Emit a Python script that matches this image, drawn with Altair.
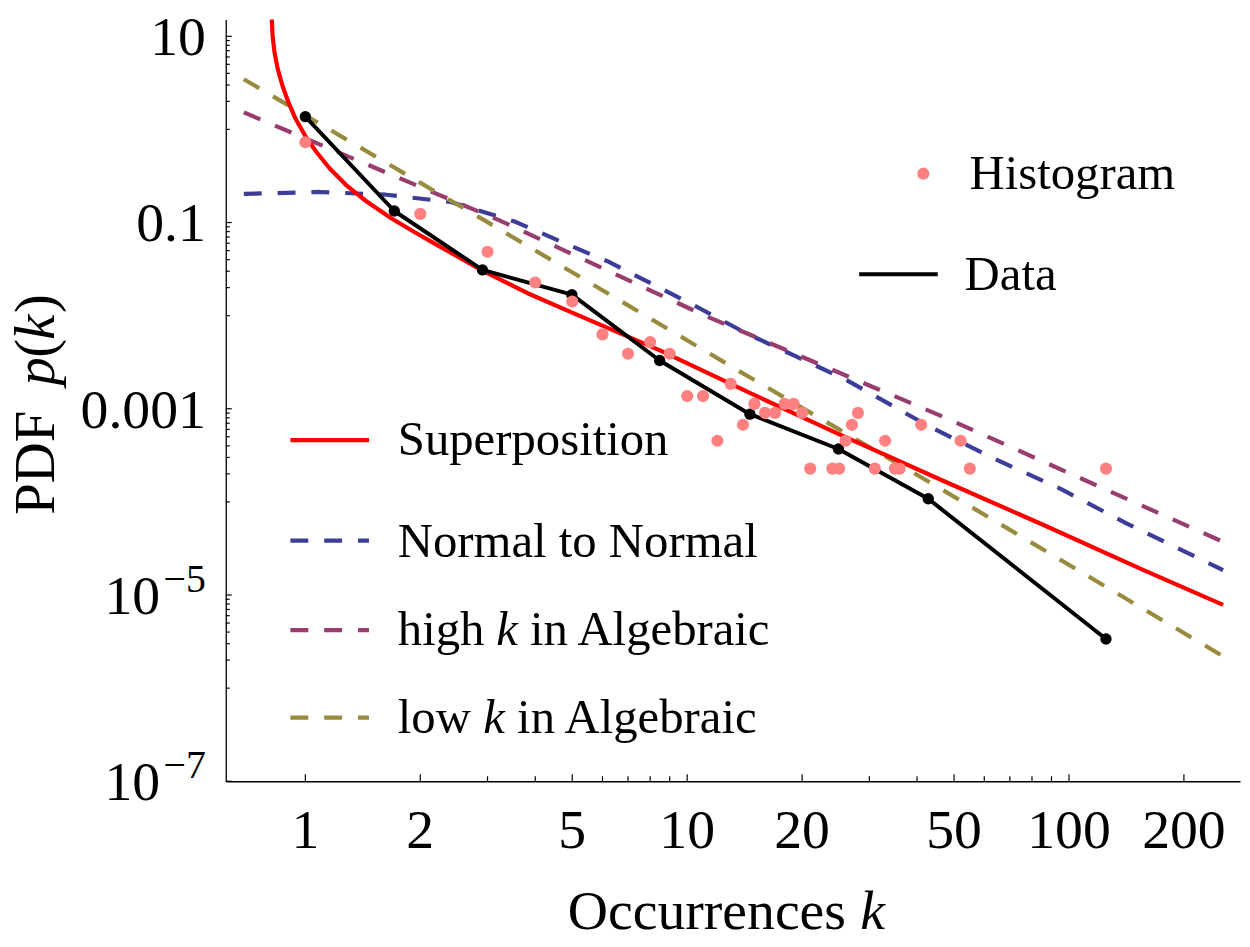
import altair as alt
import pandas as pd

# ---------------- data ----------------
# Histogram (pink dots)
hist_k = [1, 2, 3, 4, 5, 6, 7, 8, 9, 10, 11, 12, 13, 14, 15, 16, 17, 18, 19, 20,
          21, 24, 25, 26, 27, 28, 31, 33, 35, 36, 41, 52, 55, 125]
hist_p = [0.728, 0.124, 0.0486, 0.0227, 0.0142, 0.0063, 0.0039, 0.0052, 0.0039, 0.00137,
          0.00137, 0.000454, 0.00185, 0.000673, 0.00113, 0.000904, 0.000904, 0.00113, 0.00113, 0.000904,
          0.000228, 0.000228, 0.000228, 0.000454, 0.000673, 0.000904, 0.000228, 0.000454, 0.000228, 0.000228,
          0.000673, 0.000454, 0.000228, 0.000228]

# Data (black line with points)
data_k = [1.0, 1.71, 2.91, 4.99, 8.47, 14.6, 24.9, 42.8, 125.0]
data_p = [1.37, 0.133, 0.031, 0.0168, 0.0033, 0.000875, 0.00037, 0.000108, 3.37e-6]

# Superposition (red)
sup_k = [0.8126, 0.8170, 0.8206, 0.8305, 0.8470, 0.8711, 0.9031, 0.9434, 0.9982, 1.070,
         1.160, 1.281, 1.444, 1.678, 1.934, 2.181, 2.908, 3.808, 5.049, 8.456,
         14.59, 24.88, 47.27, 86.1, 156.8, 253.3]
sup_p = [22.8, 15.12, 10.05, 6.66, 4.42, 2.94, 1.948, 1.291, 0.8586, 0.569,
         0.3776, 0.2509, 0.1693, 0.1114, 0.0786, 0.0594, 0.0305, 0.01752, 0.01058, 0.00426,
         0.001479, 5.39e-4, 1.656e-4, 5.61e-5, 1.854e-5, 7.84e-6]

# Normal to Normal (blue dashed)
n2n_k = [0.690, 1.092, 1.628, 2.404, 3.55, 5.14, 6.22, 10.55, 14.24, 19.22,
         25.95, 42.76, 63.8, 95.1, 141.8, 253.3]
n2n_p = [0.203, 0.213, 0.199, 0.166, 0.1018, 0.0527, 0.0380, 0.01257, 0.00650, 0.00367,
         0.00207, 6.56e-4, 2.90e-4, 1.38e-4, 5.85e-5, 1.85e-5]

# high k in Algebraic (purple dashed)
high_k = [0.690, 3.214, 10.99, 47.27, 253.3]
high_p = [1.523, 0.1061, 0.01025, 8.05e-4, 3.72e-5]

# low k in Algebraic (olive dashed)
low_k = [0.690, 2.938, 13.68, 45.39, 253.3]
low_p = [3.456, 0.1061, 0.00254, 1.44e-4, 2.20e-6]

# axis ticks / labels
x_tick_major = [1, 2, 5, 10, 20, 50, 100, 200]
x_tick_minor = [3, 4, 6, 7, 8, 9, 30, 40, 60, 70, 80, 90]
x_labels = ["1", "2", "5", "10", "20", "50", "100", "200"]
y_lab_vals = [10, 0.1, 0.001]
y_lab_text = ["10", "0.1", "0.001"]
y_sci_vals = [1e-5, 1e-7]
y_sci_exp = ["\u22125", "\u22127"]

# ---------------- styling ----------------
FONT = "Liberation Serif"
W, H = 1020, 766
C_RED = "#ff0000"
C_PINK = "#ff8080"
C_BLUE = "#3d3d99"
C_PURPLE = "#993d71"
C_OLIVE = "#998b3d"
DASH = [18, 16]

xs = alt.Scale(type="log", domain=[0.6188, 280.5], nice=False)
ys = alt.Scale(type="log", domain=[1e-7, 15.12], nice=False)
ax = alt.Axis(domain=True, ticks=False, labels=False, grid=False, title=None,
              domainColor="black", domainWidth=1.3)


def X(f):
    return alt.X(f, type="quantitative", scale=xs, axis=ax)


def Y(f):
    return alt.Y(f, type="quantitative", scale=ys, axis=ax)


def series(ks, ps):
    return pd.DataFrame({"k": ks, "p": ps})


def line(ks, ps, color, dash=None, width=4.2):
    kw = dict(color=color, strokeWidth=width, clip=True, strokeJoin="round")
    if dash:
        kw["strokeDash"] = dash
    return alt.Chart(series(ks, ps)).mark_line(**kw).encode(x=X("k"), y=Y("p"))


one = pd.DataFrame({"a": [0]})


def txt(s, x, y, size=49, italic=False, align="left", angle=None):
    kw = dict(text=s, font=FONT, fontSize=size, align=align, baseline="alphabetic", color="black")
    if italic:
        kw["fontStyle"] = "italic"
    if angle is not None:
        kw["angle"] = angle
    return alt.Chart(one).mark_text(**kw).encode(x=alt.value(x), y=alt.value(y))


def leg_line(y, color, dash=None, x0=65, x1=144, width=4.2):
    kw = dict(color=color, strokeWidth=width)
    if dash:
        kw["strokeDash"] = dash
    return alt.Chart(one).mark_rule(**kw).encode(
        x=alt.value(x0), x2=alt.value(x1), y=alt.value(y))


layers = []

# axis ticks (inward)
layers.append(alt.Chart(pd.DataFrame({"k": x_tick_major})).mark_rule(color="black", strokeWidth=1.2)
              .encode(x=X("k"), y=alt.value(H), y2=alt.value(H - 7)))
layers.append(alt.Chart(pd.DataFrame({"k": x_tick_minor})).mark_rule(color="black", strokeWidth=1.2)
              .encode(x=X("k"), y=alt.value(H), y2=alt.value(H - 5)))
y_major = [10, 0.1, 0.001, 1e-5, 1e-7]
y_minor = []
for e in [0, -2, -4, -6]:
    for m in range(1, 10):
        y_minor.append(m * 10.0 ** e)
layers.append(alt.Chart(pd.DataFrame({"v": y_major})).mark_rule(color="black", strokeWidth=1.2)
              .encode(y=Y("v"), x=alt.value(0), x2=alt.value(6)))
layers.append(alt.Chart(pd.DataFrame({"v": y_minor})).mark_rule(color="black", strokeWidth=1.2)
              .encode(y=Y("v"), x=alt.value(0), x2=alt.value(4)))

# curves
layers.append(line(n2n_k, n2n_p, C_BLUE, DASH))
layers.append(line(high_k, high_p, C_PURPLE, DASH))
layers.append(line(low_k, low_p, C_OLIVE, DASH))
layers.append(line(sup_k, sup_p, C_RED))
layers.append(line(data_k, data_p, "black", width=4.0))
layers.append(alt.Chart(series(data_k, data_p)).mark_circle(color="black", opacity=1, size=130)
              .encode(x=X("k"), y=Y("p")))
layers.append(alt.Chart(series(hist_k, hist_p)).mark_circle(color=C_PINK, opacity=1, size=150)
              .encode(x=X("k"), y=Y("p")))

# x tick labels
layers.append(alt.Chart(pd.DataFrame({"k": x_tick_major, "t": x_labels}))
              .mark_text(font=FONT, fontSize=56, align="center", baseline="alphabetic", color="black")
              .encode(x=X("k"), y=alt.value(H + 67), text="t:N"))
# y tick labels
layers.append(alt.Chart(pd.DataFrame({"v": y_lab_vals, "t": y_lab_text}))
              .mark_text(font=FONT, fontSize=56, align="right", baseline="alphabetic", dy=19, color="black")
              .encode(y=Y("v"), x=alt.value(-20), text="t:N"))
layers.append(alt.Chart(pd.DataFrame({"v": y_sci_vals, "t": ["10", "10"]}))
              .mark_text(font=FONT, fontSize=56, align="right", baseline="alphabetic", dy=19, color="black")
              .encode(y=Y("v"), x=alt.value(-66), text="t:N"))
layers.append(alt.Chart(pd.DataFrame({"v": y_sci_vals, "t": y_sci_exp}))
              .mark_text(font=FONT, fontSize=40, align="right", baseline="alphabetic", dy=-3, color="black")
              .encode(y=Y("v"), x=alt.value(-20), text="t:N"))

# axis titles (mixed upright / italic)
layers.append(txt("Occurrences", 344, 915, size=56))
layers.append(txt("k", 638, 915, size=56, italic=True))
TX = -173
layers.append(txt("PDF", TX, 498, size=57, angle=270))
layers.append(txt("p", TX, 368, size=57, italic=True, angle=270))
layers.append(txt("(", TX, 340, size=57, angle=270))
layers.append(txt("k", TX, 322, size=57, italic=True, angle=270))
layers.append(txt(")", TX, 295, size=57, angle=270))

# legends
layers.append(alt.Chart(one).mark_circle(color=C_PINK, opacity=1, size=150)
              .encode(x=alt.value(701.5), y=alt.value(155)))
layers.append(txt("Histogram", 748, 170))
layers.append(leg_line(256, "black", x0=637, x1=716, width=4.0))
layers.append(txt("Data", 743, 272))

layers.append(leg_line(423, C_RED))
layers.append(txt("Superposition", 173, 438))
layers.append(leg_line(524, C_BLUE, DASH))
layers.append(txt("Normal to Normal", 173, 540))
layers.append(leg_line(614, C_PURPLE, DASH))
layers.append(txt("high", 173, 629))
layers.append(txt("k", 272, 629, italic=True))
layers.append(txt("in Algebraic", 306, 629))
layers.append(leg_line(702, C_OLIVE, DASH))
layers.append(txt("low", 173, 717))
layers.append(txt("k", 259, 717, italic=True))
layers.append(txt("in Algebraic", 293, 717))

chart = alt.layer(*layers).properties(
    width=W, height=H,
    padding={"left": 219, "top": 9, "right": 2, "bottom": 158},
    autosize=alt.AutoSizeParams(type="none"),
).configure_view(stroke=None)

chart.save("out.html", embed_options={"renderer": "svg", "actions": False})
